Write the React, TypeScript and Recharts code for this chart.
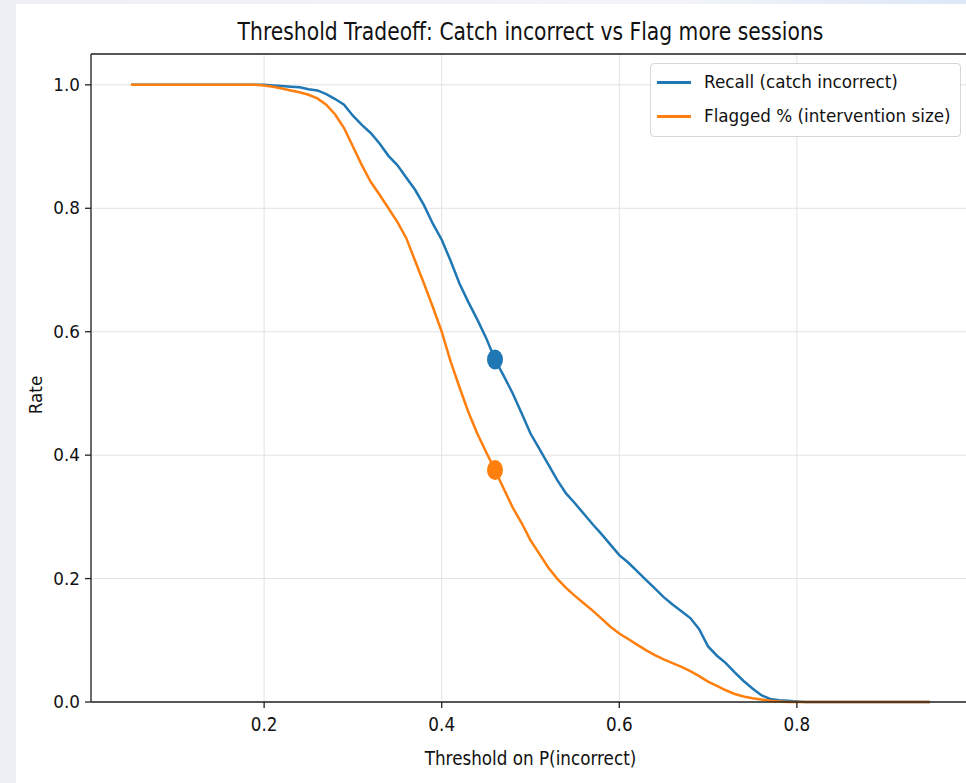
import { CartesianGrid, Line, LineChart, ReferenceDot, ReferenceLine, XAxis, YAxis } from "recharts";

const thresholds = [
  0.05, 0.06, 0.07, 0.08, 0.09, 0.1, 0.11, 0.12, 0.13, 0.14, 0.15, 0.16, 0.17, 0.18, 0.19, 0.2,
  0.21, 0.22, 0.23, 0.24, 0.25, 0.26, 0.27, 0.28, 0.29, 0.3, 0.31, 0.32, 0.33, 0.34, 0.35, 0.36,
  0.37, 0.38, 0.39, 0.4, 0.41, 0.42, 0.43, 0.44, 0.45, 0.46, 0.47, 0.48, 0.49, 0.5, 0.51, 0.52,
  0.53, 0.54, 0.55, 0.56, 0.57, 0.58, 0.59, 0.6, 0.61, 0.62, 0.63, 0.64, 0.65, 0.66, 0.67, 0.68,
  0.69, 0.7, 0.71, 0.72, 0.73, 0.74, 0.75, 0.76, 0.77, 0.78, 0.79, 0.8, 0.81, 0.82, 0.83, 0.84,
  0.85, 0.86, 0.87, 0.88, 0.89, 0.9, 0.91, 0.92, 0.93, 0.94, 0.95,
];

const recall = [
  1, 1, 1, 1, 1, 1, 1, 1, 1, 1, 1, 1, 1, 1, 1, 1,
  0.999, 0.998, 0.997, 0.996, 0.993, 0.991, 0.985, 0.977, 0.968, 0.95, 0.935, 0.922, 0.905, 0.885, 0.87, 0.85,
  0.83, 0.805, 0.775, 0.749, 0.715, 0.678, 0.648, 0.62, 0.59, 0.555, 0.528, 0.5, 0.468, 0.435, 0.41, 0.385,
  0.36, 0.338, 0.322, 0.305, 0.288, 0.272, 0.255, 0.238, 0.226, 0.212, 0.198, 0.184, 0.17, 0.158, 0.147, 0.136,
  0.118, 0.09, 0.075, 0.063, 0.048, 0.034, 0.022, 0.011, 0.005, 0.003, 0.002, 0.001, 0, 0, 0, 0,
  0, 0, 0, 0, 0, 0, 0, 0, 0, 0, 0,
];

const flagged = [
  1, 1, 1, 1, 1, 1, 1, 1, 1, 1, 1, 1, 1, 1, 1, 0.999,
  0.997, 0.994, 0.991, 0.988, 0.984, 0.978, 0.968, 0.952, 0.93, 0.9, 0.87, 0.843, 0.822, 0.8, 0.778, 0.752,
  0.715, 0.678, 0.64, 0.6, 0.552, 0.51, 0.47, 0.435, 0.405, 0.376, 0.345, 0.315, 0.29, 0.262, 0.24, 0.218,
  0.2, 0.185, 0.172, 0.16, 0.148, 0.135, 0.122, 0.111, 0.102, 0.093, 0.084, 0.076, 0.069, 0.063, 0.057, 0.05,
  0.042, 0.033, 0.026, 0.019, 0.013, 0.009, 0.006, 0.004, 0.002, 0.001, 0, 0, 0, 0, 0, 0,
  0, 0, 0, 0, 0, 0, 0, 0, 0, 0, 0,
];

// chosen operating threshold
const chosen = { threshold: 0.46, recall: 0.555, flagged: 0.376 };

const xTicks = [0.2, 0.4, 0.6, 0.8];
const yTicks = [0, 0.2, 0.4, 0.6, 0.8, 1.0];

const BLUE = "#1f77b4";
const ORANGE = "#ff7f0e";
const FONT = "'DejaVu Sans', sans-serif";

const data = thresholds.map((t, i) => ({ t, recall: recall[i], flagged: flagged[i] }));

const marker = (color: string) => (props: any) => (
  <ellipse cx={props.cx} cy={props.cy} rx={8} ry={10} fill={color} />
);

// x tick labels look a bit taller than plain DejaVu in the reference
const XTick = (props: any) => {
  const { x, y, payload } = props;
  return (
    <g transform={`translate(${x},${y + 14}) scale(1,1.15)`}>
      <text textAnchor="middle" dy="0.35em" fill="#111" fontSize={16.8} fontFamily={FONT}>
        {Number(payload.value).toFixed(1)}
      </text>
    </g>
  );
};

export default function App() {
  return (
    <div
      style={{
        position: "absolute",
        left: 0,
        top: 0,
        width: 966,
        height: 783,
        overflow: "hidden",
        background: "linear-gradient(90deg, #eef0f5 0%, #f2f4f8 70%, #dde7f8 100%)",
        fontFamily: FONT,
      }}
    >
      <div style={{ position: "absolute", left: 16, top: 4, right: 0, bottom: 0, background: "#fff" }} />
      <div
        style={{
          position: "absolute",
          left: 91,
          width: 879,
          top: 20,
          textAlign: "center",
          fontSize: 20,
          color: "#111",
          transform: "scale(1.015,1.2)",
        }}
      >
        Threshold Tradeoff: Catch incorrect vs Flag more sessions
      </div>
      <div
        style={{
          position: "absolute",
          left: 91,
          width: 879,
          top: 748,
          textAlign: "center",
          fontSize: 16.8,
          color: "#111",
          transform: "scaleY(1.15)",
        }}
      >
        Threshold on P(incorrect)
      </div>
      <div
        style={{
          position: "absolute",
          left: 36,
          top: 395,
          transform: "translate(-50%, -50%) rotate(-90deg)",
          fontSize: 16.8,
          color: "#111",
        }}
      >
        Rate
      </div>
      <div style={{ position: "absolute", left: 0, top: 0 }}>
        <LineChart width={980} height={783} data={data} margin={{ top: 54, right: 10, bottom: 51, left: 0 }}>
          <CartesianGrid stroke="#e3e3e3" strokeWidth={1} />
          <XAxis
            dataKey="t"
            type="number"
            domain={[0.005, 0.995]}
            ticks={xTicks}
            height={30}
            tickSize={6}
            stroke="#222"
            strokeWidth={1.3}
            tick={<XTick />}
          />
          <YAxis
            type="number"
            domain={[0, 1.05]}
            ticks={yTicks}
            tickFormatter={(v) => v.toFixed(1)}
            width={91}
            tickSize={6}
            tickMargin={5}
            stroke="#222"
            strokeWidth={1.3}
            tick={{ fill: "#111", fontSize: 16.8, fontFamily: FONT }}
          />
          <ReferenceLine y={1.05} stroke="#222" strokeWidth={1.3} />
          <ReferenceLine x={0.995} stroke="#222" strokeWidth={1.3} />
          <Line dataKey="recall" stroke={BLUE} strokeWidth={2.5} dot={false} type="linear" isAnimationActive={false} />
          <Line dataKey="flagged" stroke={ORANGE} strokeWidth={2.5} dot={false} type="linear" isAnimationActive={false} />
          <ReferenceDot x={chosen.threshold} y={chosen.recall} shape={marker(BLUE)} />
          <ReferenceDot x={chosen.threshold} y={chosen.flagged} shape={marker(ORANGE)} />
        </LineChart>
      </div>
      <div
        style={{
          position: "absolute",
          left: 650,
          top: 63,
          width: 311,
          height: 74,
          boxSizing: "border-box",
          border: "1px solid #d6d6d6",
          borderRadius: 4,
          background: "rgba(255,255,255,0.85)",
          fontSize: 16.8,
          color: "#111",
        }}
      >
        {[
          { label: "Recall (catch incorrect)", color: BLUE },
          { label: "Flagged % (intervention size)", color: ORANGE },
        ].map((item, i) => (
          <div key={item.label} style={{ position: "absolute", left: 6, top: 8 + i * 34, display: "flex", alignItems: "center", whiteSpace: "nowrap" }}>
            <span style={{ display: "inline-block", width: 34, height: 3, background: item.color, marginRight: 13 }} />
            {item.label}
          </div>
        ))}
      </div>
    </div>
  );
}
